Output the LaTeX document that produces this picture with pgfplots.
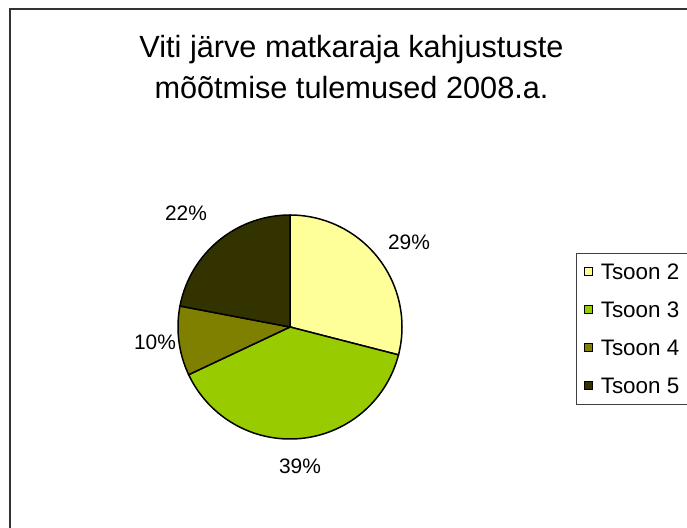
\documentclass[border=0pt]{standalone}
\usepackage{pgfplots}
\pgfplotsset{compat=1.18}
\usepackage{fontspec}
\setmainfont{Liberation Sans}
\definecolor{tsA}{HTML}{FFFF99}
\definecolor{tsB}{HTML}{99CC00}
\definecolor{tsC}{HTML}{808000}
\definecolor{tsD}{HTML}{333300}
% data (percent)
\def\vA{29}\def\vB{39}\def\vC{10}\def\vD{22}
\pgfmathsetmacro\aA{90}
\pgfmathsetmacro\aB{\aA-3.6*\vA}
\pgfmathsetmacro\aC{\aB-3.6*\vB}
\pgfmathsetmacro\aD{\aC-3.6*\vC}
\pgfmathsetmacro\aE{\aD-3.6*\vD}
\def\cx{290}\def\cy{327}\def\rr{112}
\begin{document}
\begin{tikzpicture}
\useasboundingbox (0,0) rectangle (687bp,528bp);
\clip (0,0) rectangle (687bp,528bp);
\begin{axis}[at={(0,0)}, anchor=south west, scale only axis,
  width=687bp, height=528bp, xmin=0, xmax=687, ymin=0, ymax=528,
  y dir=reverse, axis lines=none, clip=false,
  legend image code/.code={\draw[#1,line width=0.8bp,draw=black] (0bp,-4bp) rectangle (8bp,4bp); \path[draw=none,fill=none] (0bp,0bp) -- (16bp,0bp);},
  legend cell align=left,
  legend style={at={(axis cs:575.5,252.5)}, anchor=north west, draw=black!75,
    line width=0.75bp, fill=white, font=\fontsize{22.5}{26}\selectfont,
    inner xsep=8.5bp, inner ysep=10.5bp, row sep=22bp, column sep=0bp,
    nodes={inner sep=0pt, text height=16bp, text depth=0bp, anchor=west}},
]
\addplot[fill=tsA, draw=black, line width=1.5bp, domain=\aB:\aA, samples=80]
  ({\cx+\rr*cos(x)},{\cy-\rr*sin(x)}) -- (axis cs:\cx,\cy) -- cycle;
\addlegendentry{Tsoon 2\hspace{25bp}}
\addplot[fill=tsB, draw=black, line width=1.5bp, domain=\aC:\aB, samples=100]
  ({\cx+\rr*cos(x)},{\cy-\rr*sin(x)}) -- (axis cs:\cx,\cy) -- cycle;
\addlegendentry{Tsoon 3}
\addplot[fill=tsC, draw=black, line width=1.5bp, domain=\aD:\aC, samples=40]
  ({\cx+\rr*cos(x)},{\cy-\rr*sin(x)}) -- (axis cs:\cx,\cy) -- cycle;
\addlegendentry{Tsoon 4}
\addplot[fill=tsD, draw=black, line width=1.5bp, domain=\aE:\aD, samples=60]
  ({\cx+\rr*cos(x)},{\cy-\rr*sin(x)}) -- (axis cs:\cx,\cy) -- cycle;
\addlegendentry{Tsoon 5}
\node[font=\fontsize{21}{24}\selectfont] at (axis cs:409,242) {29\%};
\node[font=\fontsize{21}{24}\selectfont] at (axis cs:300,466) {39\%};
\node[font=\fontsize{21}{24}\selectfont] at (axis cs:155,342) {10\%};
\node[font=\fontsize{21}{24}\selectfont] at (axis cs:186,213) {22\%};
\node[align=center, font=\fontsize{30.8}{41}\selectfont] at (axis cs:351.5,67)
  {Viti järve matkaraja kahjustuste\\mõõtmise tulemused 2008.a.};
\draw[line width=2bp, black!80] (axis cs:10,560) -- (axis cs:10,9) -- (axis cs:720,9);
\end{axis}
\end{tikzpicture}
\end{document}
